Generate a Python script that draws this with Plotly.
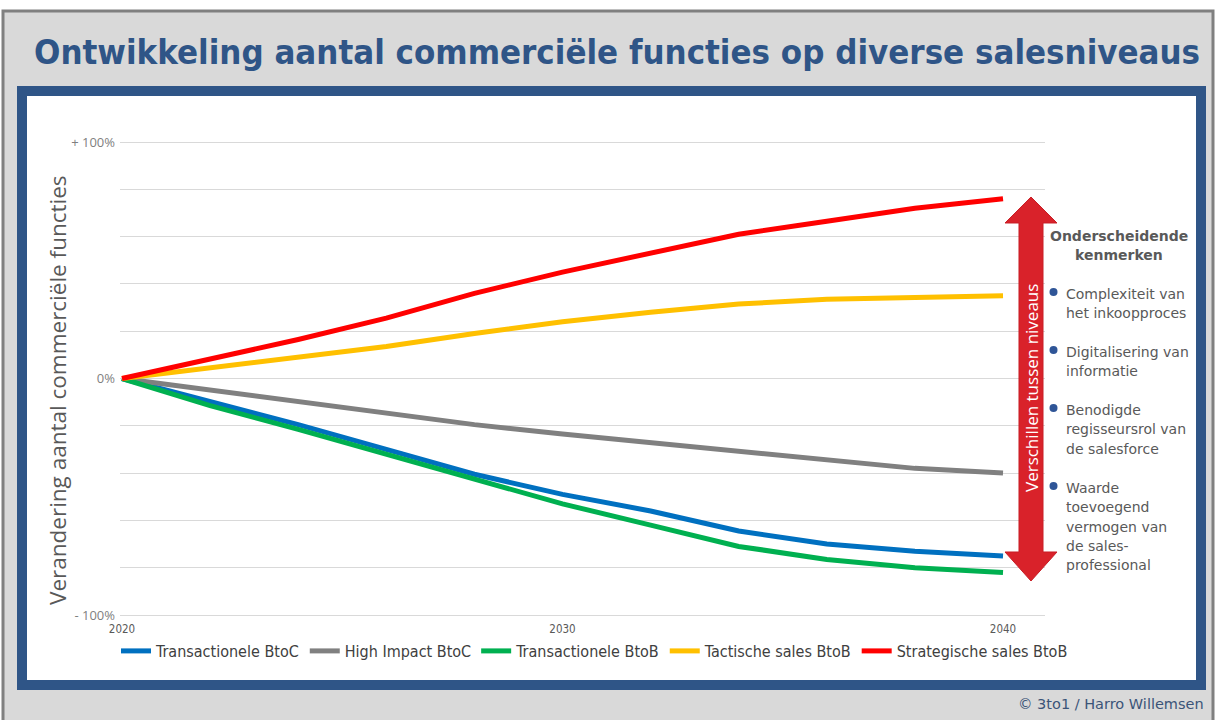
import plotly.graph_objects as go

years = [2020, 2022, 2024, 2026, 2028, 2030, 2032, 2034, 2036, 2038, 2040]
series_names = ["Transactionele BtoC", "High Impact BtoC", "Transactionele BtoB",
                "Tactische sales BtoB", "Strategische sales BtoB"]
transactionele_btoc = [0, -9.5, -19.5, -30, -40.5, -49, -56, -64.5, -70, -73, -75]
high_impact_btoc = [0, -5, -10, -14.5, -19.5, -23.5, -27, -31, -34.5, -38, -40]
transactionele_btob = [0, -11.5, -21.5, -32, -43, -53, -62, -71, -76.5, -80, -82]
tactische_btob = [0, 4.5, 9, 13.5, 19, 24, 28, 31.5, 33.5, 34.5, 35]
strategische_btob = [0, 8, 16.5, 25.5, 36, 45, 53, 61, 66.5, 72, 76]
series_values = [transactionele_btoc, high_impact_btoc, transactionele_btob,
                 tactische_btob, strategische_btob]
series_colors = ["#0070c0", "#808080", "#00b050", "#ffc000", "#ff0000"]

x_tick_vals = [2020, 2030, 2040]
y_tick_vals = [-100, -80, -60, -40, -20, 0, 20, 40, 60, 80, 100]
y_tick_text = ["- 100%", "", "", "", "", "0%", "", "", "", "", "+ 100%"]

title_text = "Ontwikkeling aantal commerciële functies op diverse salesniveaus"
y_title = "Verandering aantal commerciële functies"
arrow_label = "Verschillen tussen niveaus"
side_heading = ["Onderscheidende", "kenmerken"]
side_items = [["Complexiteit van", "het inkoopproces"],
              ["Digitalisering van", "informatie"],
              ["Benodigde", "regisseursrol van", "de salesforce"],
              ["Waarde", "toevoegend", "vermogen van", "de sales-", "professional"]]
credit = "© 3to1 / Harro Willemsen"

W, H = 1216, 720
ML, MR, MT, MB = 120, 171, 137, 100
PW = W - ML - MR
PH = H - MT - MB
Y_HALF = (PH / 2.365) / 2


def px(x):
    return (x - ML) / PW


def py(y):
    return (H - MB - y) / PH


NARROW = "DejaVu Sans Condensed, Liberation Sans Narrow, DejaVu Sans, sans-serif"
BODY = "DejaVu Sans, Verdana, sans-serif"
BLUE = "#2f5587"
TXT = "#595959"

fig = go.Figure()
for name, vals, col in zip(series_names, series_values, series_colors):
    fig.add_trace(go.Scatter(x=years, y=vals, name=name, mode="lines",
                             line=dict(color=col, width=5)))

shapes = []
shapes.append(dict(type="rect", xref="paper", yref="paper", layer="below",
                   x0=px(3), x1=px(1213), y0=py(11), y1=py(740),
                   line=dict(color="#808080", width=3), fillcolor="#d9d9d9"))
shapes.append(dict(type="rect", xref="paper", yref="paper", layer="below",
                   x0=px(22), x1=px(1201), y0=py(91), y1=py(685),
                   line=dict(color=BLUE, width=10), fillcolor="white"))
pts = [(1031, 197), (1057, 223), (1043, 223), (1043, 552), (1057, 552),
       (1031, 581), (1005, 552), (1019, 552), (1019, 223), (1005, 223)]
path = "M " + " L ".join(f"{px(a):.5f},{py(b):.5f}" for a, b in pts) + " Z"
shapes.append(dict(type="path", xref="paper", yref="paper", path=path,
                   fillcolor="#d9222a", line=dict(color="#c81e26", width=1),
                   layer="above"))
for yb in [292, 350, 408, 486]:
    shapes.append(dict(type="circle", xref="paper", yref="paper",
                       x0=px(1049.5), x1=px(1057.5), y0=py(yb + 4), y1=py(yb - 4),
                       fillcolor="#2f5597", line=dict(width=0)))

annotations = []
annotations.append(dict(text=f"<b>{title_text}</b>", xref="paper", yref="paper",
                        x=px(617), y=py(52), xanchor="center", yanchor="middle",
                        showarrow=False, font=dict(family=NARROW, size=34.5, color=BLUE)))
annotations.append(dict(text=y_title, xref="paper", yref="paper", textangle=-90,
                        x=px(57), y=py(390), xanchor="center", yanchor="middle",
                        showarrow=False, font=dict(family="Open Sans, sans-serif", size=22.5, color=TXT)))
annotations.append(dict(text=arrow_label, xref="paper", yref="paper", textangle=-90,
                        x=px(1031), y=py(388), xanchor="center", yanchor="middle",
                        showarrow=False, font=dict(family="Open Sans, sans-serif", size=17, color="white")))
for i, t in enumerate(side_heading):
    annotations.append(dict(text=f"<b>{t}</b>", xref="paper", yref="paper",
                            x=px(1119), y=py(236 + 19 * i), xanchor="center", yanchor="middle",
                            showarrow=False, font=dict(family=BODY, size=14, color=TXT)))
starts = [294, 352, 410, 488]
for block, y0 in zip(side_items, starts):
    for j, t in enumerate(block):
        annotations.append(dict(text=t, xref="paper", yref="paper",
                                x=px(1064), y=py(y0 + 19.3 * j), xanchor="left", yanchor="middle",
                                showarrow=False, font=dict(family=BODY, size=14, color=TXT)))
annotations.append(dict(text=credit, xref="paper", yref="paper",
                        x=px(1206), y=py(704), xanchor="right", yanchor="middle",
                        showarrow=False, font=dict(family=BODY, size=14.5, color="#3b5478")))

fig.update_layout(
    width=W, height=H,
    margin=dict(l=ML, r=MR, t=MT, b=MB),
    paper_bgcolor="white", plot_bgcolor="white",
    shapes=shapes, annotations=annotations,
    showlegend=True,
    legend=dict(orientation="h", x=px(116), y=py(651), xanchor="left", yanchor="middle",
                font=dict(family=NARROW, size=16, color="#404040"),
                bgcolor="rgba(0,0,0,0)", itemwidth=30, tracegroupgap=0),
    xaxis=dict(range=[2019.955, 2040.953], tickvals=x_tick_vals,
               ticktext=[str(v) for v in x_tick_vals], showgrid=False, zeroline=False,
               showline=False, ticks="", tickfont=dict(family=NARROW, size=11.5, color=TXT)),
    yaxis=dict(range=[-Y_HALF, Y_HALF], tickvals=y_tick_vals, ticktext=y_tick_text,
               showgrid=True, gridcolor="#d9d9d9", gridwidth=1, zeroline=False,
               showline=False, ticks="", ticklabelstandoff=4,
               tickfont=dict(family="Open Sans, sans-serif", size=13, color="#7f7f7f")),
)

fig.write_html("out.html")
